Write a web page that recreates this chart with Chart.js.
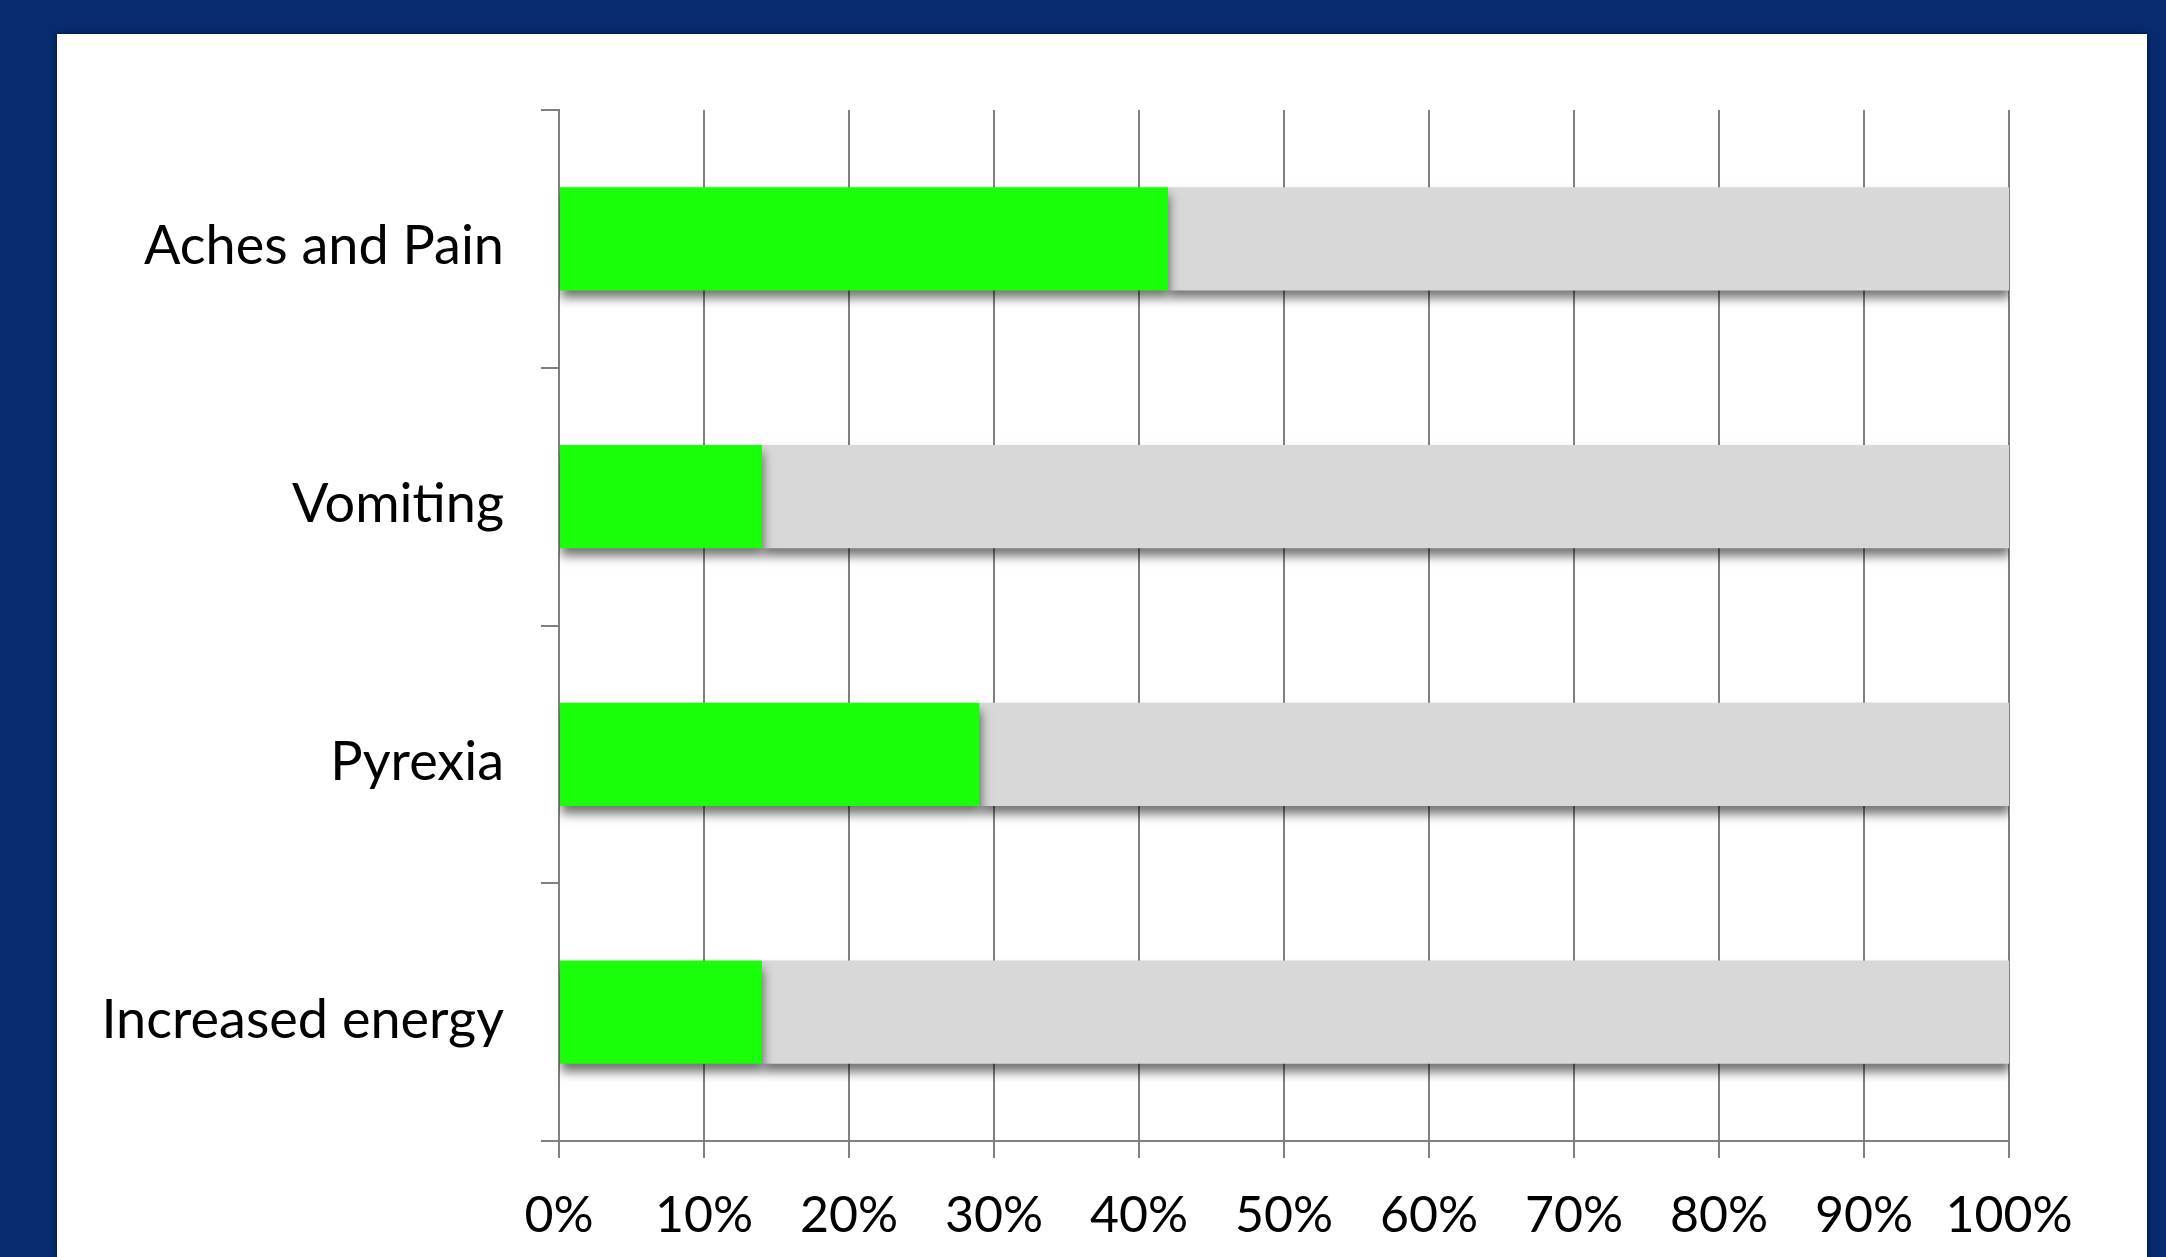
<!DOCTYPE html>
<html>
<head>
<meta charset="utf-8">
<script src="https://cdn.jsdelivr.net/npm/chart.js@4"></script>
<style>
  html, body { margin: 0; padding: 0; }
  body { width: 2166px; height: 1257px; background: #082a6e; overflow: hidden; position: relative; }
  #panel { position: absolute; left: 57px; top: 34px; width: 2090px; height: 1223px; background: #fff;
           box-shadow: 0 0 5px rgba(0,0,0,0.6); }
  #myChart { position: absolute; left: 0; top: 0; }
</style>
</head>
<body>
<div id="panel"><canvas id="myChart" width="2090" height="1223"></canvas></div>
<script>
// values (percent of respondents)
const categories = ['Aches and Pain', 'Vomiting', 'Pyrexia', 'Increased energy']
const reported = [42, 14, 29, 14]
const remainder = [58, 86, 71, 86]
const xTickLabels = ['0%', '10%', '20%', '30%', '40%', '50%', '60%', '70%', '80%', '90%', '100%']

const axisGrey = '#808080'

// soft drop shadow under the bars
const barShadow = {
    id: 'barShadow',
    beforeDatasetsDraw(chart) {
        const c = chart.ctx
        c.save()
        c.shadowColor = 'rgba(0,0,0,0.55)'
        c.shadowBlur = 10
        c.shadowOffsetY = 8
        c.shadowOffsetX = 1
    },
    afterDatasetsDraw(chart) {
        chart.ctx.restore()
    }
}

var ctx = document.getElementById('myChart').getContext('2d')
var chart = new Chart(ctx, {
    type: 'bar',
    data: {
        labels: categories,
        datasets: [{
            label: 'Yes',
            backgroundColor: '#19ff0a',
            data: reported
        }, {
            label: 'No',
            backgroundColor: '#d8d8d8',
            data: remainder
        }]
    },
    options: {
        indexAxis: 'y',
        responsive: false,
        animation: false,
        layout: { padding: { left: 0, right: 138, top: 76, bottom: 0 } },
        datasets: {
            bar: { categoryPercentage: 1, barPercentage: 0.4, borderWidth: 0, borderSkipped: false }
        },
        plugins: {
            legend: { display: false },
            tooltip: { enabled: false }
        },
        scales: {
            x: {
                stacked: true,
                min: 0,
                max: 100,
                afterFit(scale) { scale.height = 116 },
                ticks: {
                    stepSize: 10,
                    color: '#000',
                    padding: 28,
                    font: { family: 'Lato', size: 50 },
                    callback: (v, i) => xTickLabels[i]
                },
                grid: { color: axisGrey, lineWidth: 2, tickLength: 17 },
                border: { color: axisGrey, width: 2 }
            },
            y: {
                stacked: true,
                afterFit(scale) { scale.width = 502 },
                ticks: {
                    color: '#000',
                    padding: 37,
                    labelOffset: 8,
                    font: { family: 'Lato', size: 54 }
                },
                grid: { drawOnChartArea: false, color: axisGrey, lineWidth: 2, tickLength: 18 },
                border: { color: axisGrey, width: 2 }
            }
        }
    },
    plugins: [barShadow]
})
</script>
</body>
</html>
